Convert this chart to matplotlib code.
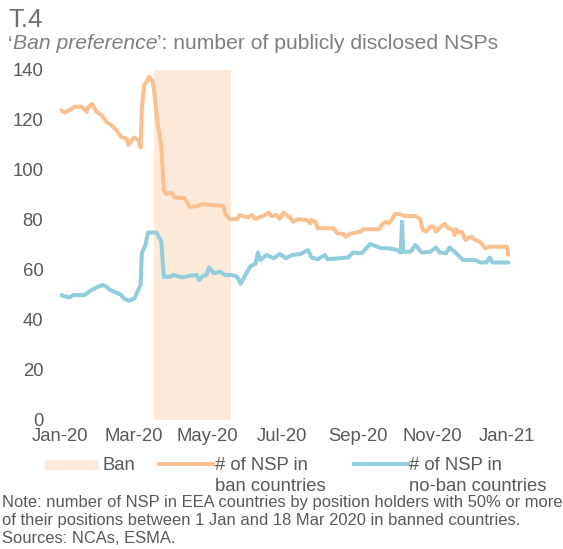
import numpy as np
import pandas as pd
import matplotlib
matplotlib.use("Agg")
import matplotlib.pyplot as plt
import matplotlib.dates as mdates
from matplotlib.patches import Rectangle
from matplotlib.lines import Line2D

plt.rcParams["font.family"] = ["Liberation Sans", "DejaVu Sans"]

# days since 1 Jan 2020 and number of NSPs
ban_days = [0, 4, 8, 12, 18, 22, 23, 26, 30, 34, 38, 42, 46, 50, 55, 56, 59, 61, 64,
            66, 67, 69, 71, 73, 76, 78, 80, 83, 85, 87, 91, 94, 102, 106, 113, 116, 124,
            134, 135, 139, 145, 147, 154, 157, 160, 164, 168, 171, 173, 177, 180, 183,
            187, 188, 191, 195, 202, 205, 206, 209, 211, 224, 227, 232, 234, 237, 242,
            246, 248, 261, 264, 267, 269, 272, 274, 278, 282, 291, 295, 297, 300, 303,
            306, 308, 311, 315, 318, 322, 323, 324, 327, 329, 332, 335, 337, 340, 344,
            348, 351, 366, 367]
ban_nsp = [124, 123, 124, 125.3, 125.3, 123.3, 125, 126.4, 123.3, 122, 119.3, 118, 116,
           113.3, 112.3, 110, 112, 113, 112, 109, 125, 134, 135.3, 137.3, 135.3, 128,
           118.7, 109.3, 92, 90.4, 91, 89, 88.8, 85.3, 85.6, 86.4, 86, 85.6, 82.7, 80.3,
           80.3, 82, 81, 82, 80.4, 81.2, 82, 83, 81.5, 82, 80.4, 83, 81.3, 81.3, 79.3,
           80.3, 80, 78.7, 80, 79.3, 76.7, 76.7, 74.7, 74.4, 73.3, 74.4, 75, 75.3, 76.3,
           76.3, 78.4, 79.3, 78.7, 80.3, 82.4, 82.4, 81.6, 81.6, 80.3, 76, 75.3, 77.3,
           77.3, 75.3, 77, 78.4, 76.7, 76, 74, 76.3, 75, 75.3, 72, 73, 73.3, 72, 71.3,
           68.7, 69.3, 69.3, 66]

noban_days = [0, 8, 11, 20, 26, 31, 35, 38, 41, 46, 50, 53, 57, 61, 64, 66, 67, 70, 72,
              79, 83, 84, 85, 90, 93, 100, 105, 112, 114, 117, 120, 122, 126, 131, 135,
              141, 145, 148, 151, 156, 160, 162, 164, 169, 175, 180, 185, 190, 197, 203,
              206, 211, 217, 219, 236, 240, 247, 254, 263, 269, 276, 279, 280, 281, 287,
              291, 296, 303, 308, 311, 316, 319, 323, 330, 340, 344, 349, 352, 354, 367]
noban_nsp = [50, 49, 50, 50, 52, 53.3, 54, 53.3, 52, 51, 50, 48.3, 47.7, 48.7, 52, 54,
             66.8, 70, 75, 75, 71.3, 64, 57.3, 57.3, 58, 57, 57.6, 58, 56, 57.6, 58, 61,
             58.7, 59.3, 58, 58, 57.3, 54.4, 57.3, 61.6, 62.4, 67, 64, 66, 64.7, 66.4,
             64.7, 66, 66.4, 68, 65, 64.3, 66, 64.3, 65, 67, 66.7, 70.4, 68.7, 68.7, 68,
             66.9, 79.3, 67.3, 67.3, 70, 67, 67.3, 69, 67, 66.7, 69, 67.3, 64, 64, 63, 63,
             65, 63, 63]

ban_start, ban_end = "2020-03-18", "2020-05-20"
tick_months = ["2020-01-01", "2020-03-01", "2020-05-01", "2020-07-01",
               "2020-09-01", "2020-11-01", "2021-01-01"]

start = pd.Timestamp("2020-01-01")
x_ban = start + pd.to_timedelta(ban_days, unit="D")
x_noban = start + pd.to_timedelta(noban_days, unit="D")

orange = "#FAC090"
blue = "#92CDDC"
shade = "#FDE9D9"
grey = "#595959"

W, H = 563, 549
fig = plt.figure(figsize=(W / 100, H / 100), dpi=100)
ax = fig.add_axes([60 / W, 1 - 420 / H, 458 / W, 350 / H])

ax.axvspan(pd.Timestamp(ban_start), pd.Timestamp(ban_end), color=shade, lw=0, zorder=0)
ax.plot(x_ban, ban_nsp, color=orange, lw=2.9, solid_joinstyle="round",
        solid_capstyle="round", zorder=3)
ax.plot(x_noban, noban_nsp, color=blue, lw=2.9, solid_joinstyle="round",
        solid_capstyle="round", zorder=2)

ax.set_xlim(start, start + pd.Timedelta(days=375))
ax.set_ylim(0, 140)
ax.set_yticks(range(0, 141, 20))
ax.set_xticks(pd.to_datetime(tick_months))
ax.xaxis.set_major_formatter(mdates.DateFormatter("%b-%y"))
for s in ax.spines.values():
    s.set_visible(False)
ax.tick_params(axis="both", length=0, labelsize=13.3, labelcolor=grey)
ax.tick_params(axis="y", pad=12)
ax.tick_params(axis="x", pad=6)


def fy(y):
    return 1 - y / H


# title
fig.text(8 / W, fy(27), "T.4", fontsize=18.5, color="#6f6f6f", va="baseline")
renderer = fig.canvas.get_renderer()
xpos = 8 / W
for piece, style in [("\u2018", "normal"), ("Ban preference", "italic"),
                     ("\u2019: number of publicly disclosed NSPs", "normal")]:
    t = fig.text(xpos, fy(49), piece, fontsize=15.2, color="#7f7f7f",
                 style=style, va="baseline")
    bb = t.get_window_extent(renderer)
    xpos = bb.x1 / W

# legend
fig.add_artist(Rectangle((45 / W, fy(469)), 52 / W, 9 / H, color=shade,
                         transform=fig.transFigure))
fig.text(103 / W, fy(470), "Ban", fontsize=13.3, color=grey, va="baseline")
fig.add_artist(Line2D([159 / W, 213 / W], [fy(464), fy(464)], color=orange, lw=2.9,
                      transform=fig.transFigure))
fig.text(215 / W, fy(470), "# of NSP in", fontsize=13.3, color=grey, va="baseline")
fig.text(215 / W, fy(491), "ban countries", fontsize=13.3, color=grey, va="baseline")
fig.add_artist(Line2D([354 / W, 408 / W], [fy(464), fy(464)], color=blue, lw=2.9,
                      transform=fig.transFigure))
fig.text(409 / W, fy(470), "# of NSP in", fontsize=13.3, color=grey, va="baseline")
fig.text(409 / W, fy(491), "no-ban countries", fontsize=13.3, color=grey, va="baseline")

note_lines = ["Note: number of NSP in EEA countries by position holders with 50% or more",
              "of their positions between 1 Jan and 18 Mar 2020 in banned countries.",
              "Sources: NCAs, ESMA."]
for line, yb in zip(note_lines, [507, 525, 543]):
    fig.text(2 / W, fy(yb), line, fontsize=11.9, color=grey, va="baseline")

fig.savefig("out.png", dpi=100)
